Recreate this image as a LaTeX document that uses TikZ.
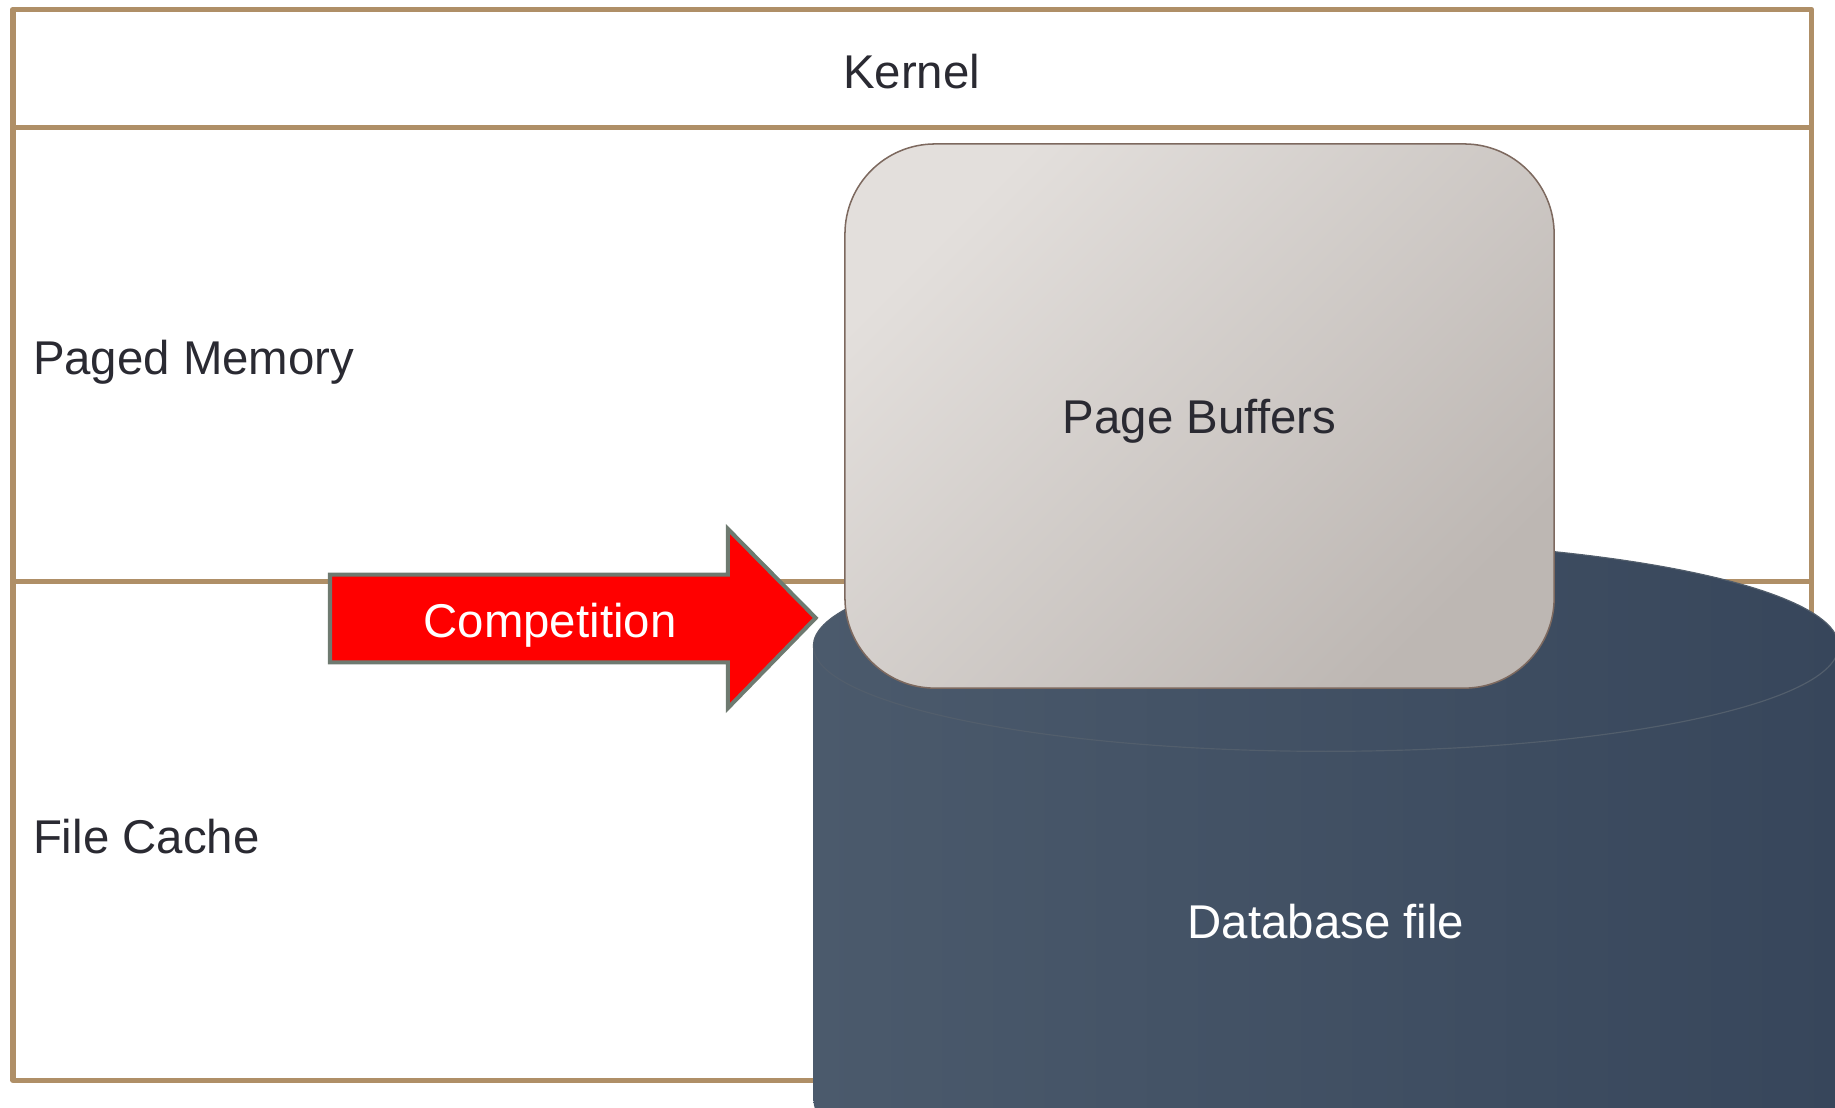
\documentclass[tikz,border=0pt]{standalone}
\usepackage{fontspec}
\setmainfont{Liberation Sans}
\definecolor{framebrown}{HTML}{AF8F67}
\definecolor{txtdark}{HTML}{2A2A32}
\definecolor{pblight}{HTML}{E3DFDC}
\definecolor{pbdark}{HTML}{BDB7B3}
\definecolor{pbedge}{HTML}{7D695F}
\definecolor{dbleft}{HTML}{4B5A6C}
\definecolor{dbright}{HTML}{37465B}
\definecolor{dbrim}{HTML}{525E6C}
\definecolor{arrowedge}{HTML}{6E7A70}
\begin{document}
\begin{tikzpicture}[x=1pt, y=-1pt, font=\fontsize{40.5}{48}\selectfont, line join=round,
	framelin/.style={draw=framebrown, line width=4.5pt},
	darktxt/.style={text=txtdark, inner sep=0pt},
	whitetxt/.style={text=white, inner sep=0pt},
	pagebuf/.style={draw=pbedge, line width=1.3pt, rounded corners=77pt, top color=pblight, bottom color=pbdark, shading angle=45, minimum width=606pt, minimum height=465pt, text depth=0pt, text=txtdark},
	dbcyl/.style={left color=dbleft, right color=dbright},
	dbrimline/.style={draw=dbrim, line width=1pt},
	comparrow/.style={fill=red, draw=arrowedge, line width=3.5pt, line join=miter}]
	\useasboundingbox (0,0) rectangle (1568,946);
	\draw[framelin] (11,8) rectangle (1548,923);
	\foreach \y in {109,497}
	\draw[framelin] (11,\y)--(1548,\y);
	\node[darktxt, anchor=base] (kernel) at (779,76) {Kernel};
	\node[darktxt, anchor=base west] (paged) at (28,320) {Paged Memory};
	\node[darktxt, anchor=base west] (filecache) at (28,729) {File Cache};
	\begin{scope}
		\clip (0,0) rectangle (1568,946);
		\shade[dbcyl] (695,552)--(695,940) arc[start angle=180, end angle=0, x radius=438, y radius=90]
			--(1571,552) arc[start angle=0, end angle=-180, x radius=438, y radius=90]--cycle;
		\draw[dbrimline] (1133,552) ellipse [x radius=438, y radius=90];
	\end{scope}
	\node[whitetxt, anchor=base] (dbfile) at (1133,802) {Database file};
	\node[pagebuf] (pagebuf) at (1025,355.5) {Page Buffers};
	\draw[comparrow] (282,491)--(622,491)--(622,452)--(697,528)--(622,605)--(622,566)--(282,566)--cycle;
	\node[whitetxt, anchor=base] (comp) at (470,545) {Competition};
\end{tikzpicture}
\end{document}
